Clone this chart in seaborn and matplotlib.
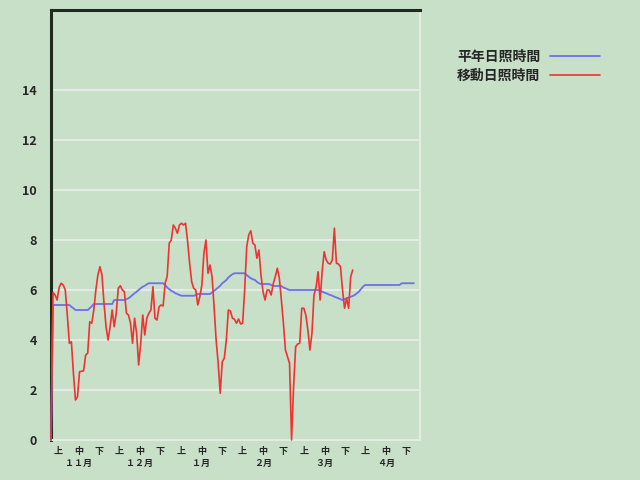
import matplotlib
matplotlib.use("Agg")
import matplotlib.pyplot as plt
import seaborn as sns

# 平年日照時間 (daily, from 11/1)
heinen = [
    0.0, 5.4, 5.4, 5.4, 5.4, 5.4, 5.4, 5.4, 5.4, 5.4,
    5.33, 5.27, 5.2, 5.2, 5.2, 5.2, 5.2, 5.2, 5.2, 5.27,
    5.35, 5.44, 5.44, 5.44, 5.44, 5.44, 5.44, 5.44, 5.44, 5.44,
    5.44, 5.6, 5.6, 5.6, 5.6, 5.6, 5.6, 5.63, 5.67, 5.73,
    5.8, 5.87, 5.93, 6.0, 6.07, 6.13, 6.17, 6.23, 6.27, 6.27,
    6.27, 6.27, 6.27, 6.27, 6.27, 6.27, 6.2, 6.1, 6.03, 5.97,
    5.93, 5.87, 5.84, 5.8, 5.77, 5.77, 5.77, 5.77, 5.77, 5.77,
    5.77, 5.8, 5.84, 5.84, 5.84, 5.84, 5.84, 5.84, 5.84, 5.9,
    5.97, 6.03, 6.1, 6.17, 6.27, 6.33, 6.4, 6.5, 6.57, 6.63,
    6.67, 6.67, 6.67, 6.67, 6.67, 6.67, 6.6, 6.53, 6.47, 6.43,
    6.4, 6.33, 6.27, 6.24, 6.24, 6.24, 6.24, 6.24, 6.2, 6.16,
    6.16, 6.16, 6.16, 6.16, 6.1, 6.07, 6.03, 6.0, 6.0, 6.0,
    6.0, 6.0, 6.0, 6.0, 6.0, 6.0, 6.0, 6.0, 6.0, 6.0,
    6.0, 6.0, 5.97, 5.93, 5.9, 5.87, 5.83, 5.8, 5.77, 5.73,
    5.7, 5.67, 5.63, 5.6, 5.63, 5.67, 5.7, 5.73, 5.76, 5.8,
    5.87, 5.93, 6.03, 6.13, 6.2, 6.2, 6.2, 6.2, 6.2, 6.2,
    6.2, 6.2, 6.2, 6.2, 6.2, 6.2, 6.2, 6.2, 6.2, 6.2,
    6.2, 6.2, 6.27, 6.27, 6.27, 6.27, 6.27, 6.27, 6.27,
]

# 移動日照時間 (daily, from 11/1)
idou = [
    0.0, 5.9, 5.8, 5.6, 6.1, 6.27, 6.2, 6.0, 5.0, 3.87,
    3.93, 2.67, 1.6, 1.73, 2.73, 2.75, 2.77, 3.4, 3.47, 4.73,
    4.67, 5.2, 6.0, 6.6, 6.93, 6.6, 5.47, 4.53, 4.0, 4.53,
    5.2, 4.53, 5.07, 6.07, 6.17, 6.0, 5.93, 5.07, 5.0, 4.67,
    3.87, 4.87, 4.27, 3.0, 3.87, 5.0, 4.2, 4.87, 5.07, 5.2,
    6.13, 4.87, 4.8, 5.33, 5.4, 5.36, 6.27, 6.56, 7.87, 8.0,
    8.6, 8.47, 8.27, 8.6, 8.67, 8.6, 8.67, 7.95, 7.07, 6.33,
    6.07, 6.0, 5.4, 5.73, 6.2, 7.47, 8.0, 6.67, 7.0, 6.53,
    5.33, 4.0, 3.07, 1.87, 3.13, 3.27, 4.0, 5.2, 5.16, 4.87,
    4.83, 4.67, 4.84, 4.64, 4.67, 6.0, 7.73, 8.2, 8.37, 7.87,
    7.8, 7.27, 7.6, 6.6, 5.93, 5.6, 6.0, 6.0, 5.8, 6.25,
    6.53, 6.87, 6.47, 5.6, 4.67, 3.6, 3.33, 3.07, 0.0, 2.13,
    3.73, 3.84, 3.87, 5.27, 5.27, 5.0, 4.4, 3.6, 4.27, 5.8,
    6.1, 6.73, 5.6, 6.73, 7.53, 7.2, 7.07, 7.04, 7.2, 8.47,
    7.07, 7.04, 6.93, 6.0, 5.27, 5.67, 5.27, 6.53, 6.8,
]

months = ["１１月", "１２月", "１月", "２月", "３月", "４月"]
jun = ["上", "中", "下"]
ndays = 181

bg = "#C8DFC8"
grid_c = "#E2ECE2"
blue = "#6E6EF0"
red = "#EE3333"

sns.set_style("white")
plt.rcParams["font.family"] = ["Noto Sans CJK JP", "DejaVu Sans"]

fig = plt.figure(figsize=(6.4, 4.8), dpi=100, facecolor=bg)
ax = fig.add_axes([51 / 640, 40 / 480, 369 / 640, 430 / 480])
ax.set_facecolor(bg)

for yv in range(0, 16, 2):
    ax.axhline(yv, color=grid_c, lw=1.5, zorder=0)

sns.lineplot(x=list(range(len(heinen))), y=heinen, ax=ax, color=blue,
             lw=1.3, label="平年日照時間", zorder=3, clip_on=False)
sns.lineplot(x=list(range(len(idou))), y=idou, ax=ax, color=red,
             lw=1.2, label="移動日照時間", zorder=3, clip_on=False)

ax.set_xlim(0, ndays)
ax.set_ylim(0, 17.2)

for s in ["left", "top"]:
    ax.spines[s].set_color("#1E2A1E")
    ax.spines[s].set_linewidth(2.2)
for s in ["right", "bottom"]:
    ax.spines[s].set_color(grid_c)
    ax.spines[s].set_linewidth(1.5)

ax.set_yticks(range(0, 16, 2))
ax.set_yticklabels([str(v) for v in range(0, 16, 2)], fontsize=9,
                   fontweight="bold")
ax.tick_params(axis="y", length=0, pad=10)

step = ndays / 18
xpos = [k * step + 3.3 for k in range(18)]
ax.set_xticks(xpos)
ax.set_xticklabels(jun * 6, fontsize=6.5, fontweight="bold")
ax.tick_params(axis="x", length=0, pad=5)

for i, m in enumerate(months):
    ax.text(xpos[i * 3 + 1], -0.055, m, transform=ax.get_xaxis_transform(),
            ha="center", va="center", fontsize=6.5, fontweight="bold")

ax.set_xlabel("")
ax.set_ylabel("")

ax.legend(loc="upper left", bbox_to_anchor=(457 / 640, 1 - 50 / 480),
          bbox_transform=fig.transFigure, frameon=False, markerfirst=False,
          prop={"size": 10, "weight": "bold"}, handlelength=3.6,
          handletextpad=0.7, labelspacing=0.35, borderpad=0, borderaxespad=0)

fig.savefig("out.png", dpi=100, facecolor=bg)
